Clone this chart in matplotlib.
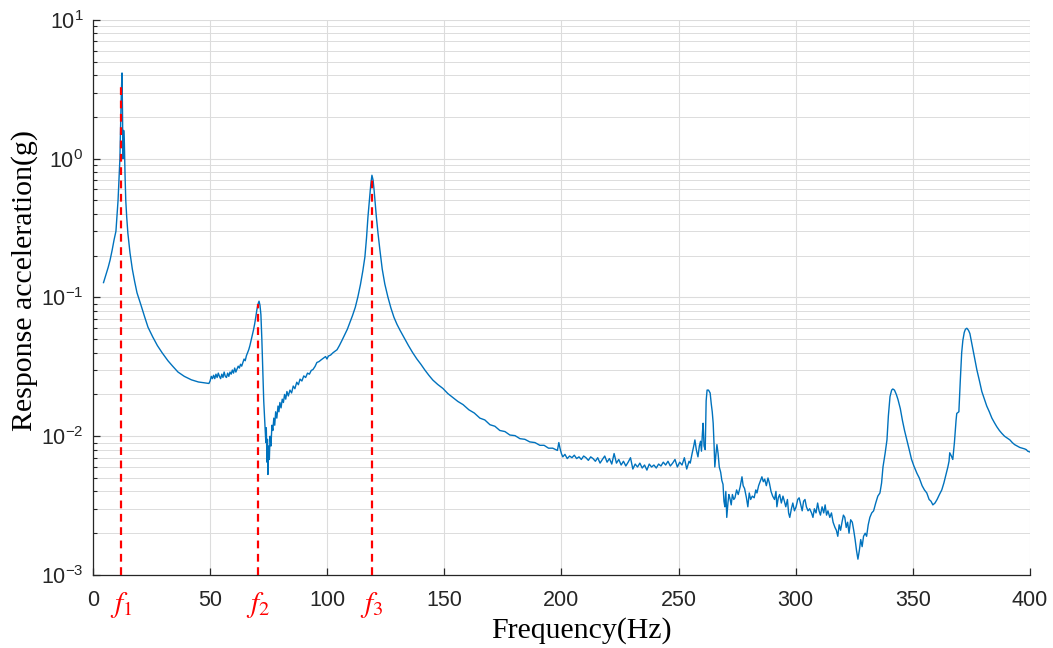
import matplotlib
matplotlib.use('Agg')
import matplotlib.pyplot as plt
import numpy as np
from matplotlib.ticker import LogLocator, NullFormatter

plt.rcParams['font.family'] = ['Liberation Sans', 'DejaVu Sans']

# first mode (rise, peak, decay)
freq_a = [4.5, 5.5, 6.5, 7.3, 8.2, 9.0, 9.8, 10.3, 10.7, 11.1, 11.5, 11.8, 12.1, 12.4,
          12.6, 12.8, 13.1, 13.4, 13.7, 14.0, 14.4, 14.9, 15.8, 16.8, 17.8, 18.8, 20.5,
          22.0, 23.5, 25.5, 27.5, 29.5, 32.0, 34.0, 36.3, 39.0, 42.0, 45.0, 47.8, 49.5]
acc_a = [0.128, 0.145, 0.165, 0.186, 0.22, 0.26, 0.30, 0.40, 0.50, 0.70, 1.0, 1.8, 3.0, 4.15,
         2.2, 1.0, 1.6, 1.3, 0.75, 0.50, 0.38, 0.29, 0.21, 0.16, 0.13, 0.108, 0.088,
         0.073, 0.061, 0.052, 0.045, 0.040, 0.035, 0.032, 0.029, 0.027, 0.0255, 0.0246, 0.0242, 0.024]

# second mode and the noisy dip after it
freq_b = [50.0, 50.5, 51.0, 51.5, 52.0, 52.5, 53.0, 53.5, 54.0, 54.5, 55.0, 55.5, 56.0, 56.5,
          57.0, 57.5, 58.0, 58.5, 59.0, 59.5, 60.0, 60.5, 61.0, 61.5, 62.0, 62.5, 63.0, 63.5,
          64.0, 64.5, 65.0, 65.5, 66.0, 66.5, 67.0, 67.5, 68.0, 68.5, 69.0, 69.5, 70.0, 70.5,
          70.9, 71.3, 71.7, 72.1, 72.5, 72.9, 73.4, 73.8, 74.0, 74.3, 74.5, 74.7, 75.0, 75.3,
          75.6, 76.0, 76.4, 76.8, 77.2, 77.6, 78.0, 78.5, 79.0, 79.4, 79.8, 80.3, 80.8, 81.3,
          81.8, 82.3, 82.8, 83.4, 84.1, 84.8, 85.5, 86.2, 87.0, 87.7, 88.4, 89.2, 90.0, 90.8,
          91.6, 92.4, 93.2, 93.9, 94.8, 95.6, 96.5, 97.4, 98.4, 99.3, 99.9]
acc_b = [0.025, 0.027, 0.026, 0.0275, 0.026, 0.028, 0.0265, 0.0285, 0.027, 0.026, 0.028, 0.0265, 0.029, 0.027,
         0.0265, 0.0285, 0.027, 0.029, 0.028, 0.030, 0.0285, 0.031, 0.029, 0.0305, 0.032, 0.031, 0.033, 0.032,
         0.034, 0.036, 0.035, 0.038, 0.040, 0.042, 0.045, 0.049, 0.053, 0.058, 0.064, 0.072, 0.082, 0.090,
         0.094, 0.088, 0.075, 0.050, 0.030, 0.018, 0.0124, 0.009, 0.0115, 0.0065, 0.0095, 0.0053, 0.0085, 0.0068,
         0.0100, 0.0085, 0.0120, 0.0110, 0.0135, 0.0120, 0.0150, 0.0135, 0.0165, 0.0150, 0.0175, 0.0160, 0.0185, 0.0175,
         0.0200, 0.0185, 0.0210, 0.0195, 0.0215, 0.0205, 0.0230, 0.0220, 0.0245, 0.0235, 0.0258, 0.0250, 0.0272, 0.0265,
         0.0285, 0.0280, 0.0298, 0.0302, 0.0318, 0.034, 0.0345, 0.0355, 0.0365, 0.0375, 0.036]

# third mode and decay to 200 Hz
freq_c = [100.5, 101.5, 102.5, 103.4, 104.2, 105.2, 106.3, 107.5, 108.6, 109.7, 110.8, 112.0,
          113.1, 114.2, 115.2, 116.1, 116.8, 117.4, 118.0, 118.6, 119.1, 119.6, 120.0, 120.4,
          121.0, 121.7, 122.5, 123.5, 124.6, 125.9, 127.2, 128.5, 129.8, 131.1, 132.9, 134.7,
          136.5, 138.3, 140.0, 141.7, 143.4, 145.1, 147.2, 149.4, 151.5, 153.7, 155.8, 158.0,
          160.5, 162.8, 165.2, 167.3, 169.5, 171.6, 173.7, 175.9, 178.0, 180.2, 182.3, 184.4,
          186.5, 188.7, 190.8, 192.6, 194.5, 196.3, 197.6, 198.3, 198.9, 199.4, 200.0, 200.6]
acc_c = [0.0378, 0.0385, 0.040, 0.041, 0.042, 0.045, 0.049, 0.054, 0.059, 0.066, 0.074, 0.085,
         0.101, 0.124, 0.155, 0.196, 0.27, 0.38, 0.50, 0.65, 0.76, 0.70, 0.60, 0.50,
         0.38, 0.29, 0.22, 0.16, 0.125, 0.101, 0.084, 0.072, 0.064, 0.058, 0.051, 0.045,
         0.040, 0.036, 0.033, 0.030, 0.0275, 0.0254, 0.0236, 0.0221, 0.0203, 0.0190, 0.0178, 0.0169,
         0.0155, 0.0147, 0.0135, 0.0131, 0.0121, 0.0118, 0.0110, 0.0108, 0.0102, 0.0101, 0.0096, 0.0095,
         0.0091, 0.0090, 0.0086, 0.0086, 0.0082, 0.0082, 0.0080, 0.0079, 0.0090, 0.0082, 0.0075, 0.0071]

# flat noisy band 200-255 Hz
freq_d = [201.5, 202.5, 203.5, 204.5, 205.5, 206.5, 207.5, 208.5, 209.5, 210.5, 211.5, 212.5,
          213.5, 214.5, 215.5, 216.5, 217.5, 218.5, 219.5, 220.5, 221.5, 222.5, 223.5, 224.5,
          225.5, 226.5, 227.5, 228.5, 229.5, 230.5, 231.5, 232.5, 233.5, 234.5, 235.5, 236.5,
          237.5, 238.5, 239.5, 240.5, 241.5, 242.5, 243.5, 244.5, 245.5, 246.5, 247.5, 248.5,
          249.5, 250.5, 251.5, 252.5, 253.5, 254.5, 255.0]
acc_d = [0.0074, 0.0069, 0.0072, 0.0070, 0.0073, 0.0069, 0.0071, 0.0068, 0.0072, 0.0070, 0.0067, 0.0071,
         0.0069, 0.0066, 0.0070, 0.0064, 0.0068, 0.0072, 0.0065, 0.0069, 0.0063, 0.0075, 0.0064, 0.0068,
         0.0062, 0.0066, 0.0061, 0.0065, 0.0070, 0.0058, 0.0063, 0.0060, 0.0064, 0.0059, 0.0062, 0.0057,
         0.0063, 0.0060, 0.0062, 0.0059, 0.0063, 0.0061, 0.0065, 0.0062, 0.0066, 0.0061, 0.0064, 0.0068,
         0.0060, 0.0065, 0.0062, 0.0070, 0.0058, 0.0066, 0.0064]

# high band 255-400 Hz
freq_e = [255.8, 256.5, 257.0, 257.6, 258.3, 258.9, 259.4, 259.8, 260.2, 260.5, 260.9, 261.4,
          261.8, 262.2, 262.8, 263.5, 264.0, 264.4, 264.8, 265.2, 265.5, 266.0, 266.4, 266.9,
          267.4, 268.0, 268.5, 269.0, 269.4, 269.8, 270.2, 270.6, 271.1, 271.5, 271.9, 272.5,
          273.0, 273.6, 274.1, 274.8, 275.5, 276.3, 277.1, 277.6, 278.2, 279.0, 279.6, 280.2,
          280.8, 281.5, 282.3, 283.0, 283.5, 284.2, 285.0, 285.6, 286.2, 286.8, 287.5, 288.2,
          288.8, 289.5, 290.2, 291.0, 291.6, 292.0, 292.6, 293.2, 293.9, 294.6, 295.2, 295.8,
          296.5, 297.0, 297.5, 298.2, 298.8, 299.5, 300.2, 300.9, 301.5, 302.2, 302.8, 303.4,
          304.0, 304.6, 305.3, 306.0, 306.8, 307.4, 308.0, 308.7, 309.4, 310.0, 310.6, 311.3,
          312.0, 312.6, 313.2, 313.8, 314.6, 315.3, 316.0, 316.8, 317.4, 318.0, 318.6, 319.2,
          319.8, 320.4, 321.0, 321.6, 322.2, 322.8, 323.5, 324.2, 324.8, 325.4, 326.0, 326.6,
          327.2, 327.8, 328.4, 329.0, 329.7, 330.3, 331.0, 331.7, 332.5, 333.3, 334.2, 335.1,
          336.0, 336.7, 337.3, 338.2, 339.0, 339.6, 340.3, 341.0, 341.5, 342.2, 343.0, 343.7,
          344.7, 345.6, 346.5, 347.5, 348.5, 349.5, 350.5, 351.8, 352.8, 354.0, 355.0, 356.0,
          357.0, 357.8, 358.6, 359.5, 360.4, 361.4, 362.4, 363.3, 364.2, 365.0, 365.5, 365.8,
          366.5, 367.1, 367.8, 368.5, 368.8, 369.7, 370.3, 370.9, 371.4, 372.0, 372.5, 373.1,
          373.8, 374.4, 375.5, 376.5, 377.4, 378.5, 379.5, 380.6, 381.6, 382.7, 383.8, 384.9,
          385.9, 387.0, 388.0, 389.2, 390.3, 391.5, 392.5, 393.5, 394.6, 395.7, 396.8, 397.8,
          398.5, 399.1, 400.0]
acc_e = [0.0075, 0.0085, 0.0094, 0.0080, 0.0071, 0.0085, 0.0092, 0.0078, 0.0105, 0.0124, 0.0085, 0.0080,
         0.018, 0.0215, 0.0215, 0.0205, 0.017, 0.0150, 0.0124, 0.0085, 0.0060, 0.0075, 0.0087, 0.0075,
         0.0060, 0.0055, 0.0048, 0.0045, 0.0034, 0.0031, 0.0040, 0.0026, 0.0033, 0.0038, 0.0036, 0.0032,
         0.0038, 0.0035, 0.0036, 0.0041, 0.0038, 0.0043, 0.0051, 0.0044, 0.0042, 0.0036, 0.0031, 0.0039,
         0.0035, 0.0037, 0.0036, 0.0041, 0.0039, 0.0044, 0.0048, 0.0051, 0.0047, 0.0049, 0.0044, 0.0050,
         0.0046, 0.0040, 0.0037, 0.0035, 0.0040, 0.0031, 0.0036, 0.0038, 0.0033, 0.0037, 0.0034, 0.0031,
         0.0035, 0.0028, 0.0026, 0.0030, 0.0033, 0.0029, 0.0031, 0.0035, 0.0036, 0.0032, 0.0029, 0.0034,
         0.0035, 0.0031, 0.0029, 0.0030, 0.0028, 0.0026, 0.0030, 0.0028, 0.0033, 0.0029, 0.0027, 0.0031,
         0.0028, 0.0032, 0.0027, 0.0029, 0.0026, 0.0028, 0.0024, 0.0022, 0.0021, 0.0019, 0.0023, 0.0021,
         0.0024, 0.0027, 0.0026, 0.0022, 0.0024, 0.0020, 0.0025, 0.0024, 0.0021, 0.0018, 0.0015, 0.0013,
         0.0015, 0.0018, 0.0016, 0.0019, 0.0020, 0.0019, 0.0023, 0.0026, 0.0028, 0.0029, 0.0033, 0.0037,
         0.0039, 0.0046, 0.0060, 0.0075, 0.0094, 0.0140, 0.0193, 0.0215, 0.0219, 0.0215, 0.0200, 0.0184,
         0.0158, 0.0130, 0.0110, 0.0094, 0.0080, 0.0068, 0.0061, 0.0054, 0.0050, 0.0044, 0.0041, 0.0039,
         0.0035, 0.0034, 0.0032, 0.0033, 0.0035, 0.0038, 0.0041, 0.0046, 0.0053, 0.0060, 0.0066, 0.0076,
         0.0072, 0.0068, 0.0090, 0.0130, 0.0146, 0.0150, 0.025, 0.040, 0.049, 0.056, 0.059, 0.060,
         0.058, 0.055, 0.044, 0.036, 0.030, 0.025, 0.021, 0.0185, 0.0165, 0.0150, 0.0135, 0.0125,
         0.0117, 0.0110, 0.0105, 0.0100, 0.0097, 0.0094, 0.0090, 0.0087, 0.0085, 0.0083, 0.0082, 0.0081,
         0.0080, 0.0078, 0.0077]

# natural frequencies and the height of their marker lines
peak_freq = [12.0, 70.6, 119.0]
peak_top = [3.3, 0.09, 0.70]
peak_label = ['$f_1$', '$f_2$', '$f_3$']

freq = np.concatenate([freq_a, freq_b, freq_c, freq_d, freq_e])
acc = np.concatenate([acc_a, acc_b, acc_c, acc_d, acc_e])

fig = plt.figure(figsize=(10.53, 6.48), dpi=100)
ax = fig.add_axes([0.0883, 0.1127, 0.8897, 0.8565])

ax.semilogy(freq, acc, color='#0072BD', lw=1.0, zorder=3)
for f, top in zip(peak_freq, peak_top):
    ax.plot([f, f], [1e-3, top], color='#ff0000', lw=1.6, linestyle=(0, (3.5, 2.5)), zorder=4)

ax.set_xlim(0, 400)
ax.set_ylim(1e-3, 1e1)
ax.set_xticks(np.arange(0, 401, 50))
ax.yaxis.set_major_locator(LogLocator(base=10, numticks=10))
ax.yaxis.set_minor_locator(LogLocator(base=10, subs=np.arange(2, 10), numticks=10))
ax.yaxis.set_minor_formatter(NullFormatter())

ax.grid(True, which='major', color='#dcdcdc', lw=0.8)
ax.grid(True, which='minor', axis='y', color='#dcdcdc', lw=0.7)
ax.set_axisbelow(True)

for s in ['top', 'right']:
    ax.spines[s].set_visible(False)
for s in ['left', 'bottom']:
    ax.spines[s].set_color('#262626')
    ax.spines[s].set_linewidth(0.9)

ax.tick_params(which='major', direction='in', length=5, width=0.9, color='#262626',
               labelsize=15.5, labelcolor='#262626')
ax.tick_params(which='minor', direction='in', length=3, width=0.8, color='#262626')
ax.tick_params(axis='x', pad=11)
ax.tick_params(axis='y', pad=7)

for f, lab in zip(peak_freq, peak_label):
    ax.text(f, -0.027, lab, transform=ax.get_xaxis_transform(), ha='center', va='top',
            color='#ff0000', fontsize=21, math_fontfamily='stix')

ax.set_xlabel('Frequency(Hz)', family='Liberation Serif', fontsize=21.5, labelpad=4)
ax.set_ylabel('Response acceleration(g)', family='Liberation Serif', fontsize=21.5, labelpad=2)
ax.xaxis.label.set_x(0.521)
ax.yaxis.label.set_y(0.53)

fig.savefig('out.png', dpi=100)
